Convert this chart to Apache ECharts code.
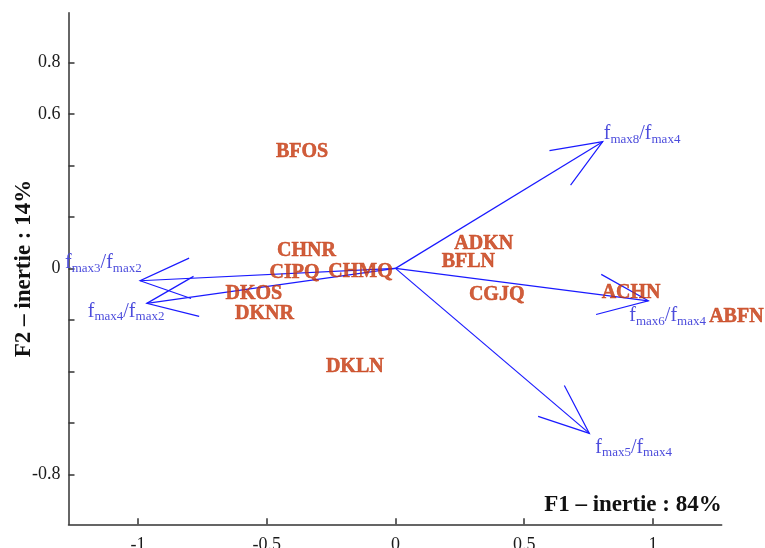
<!DOCTYPE html>
<html>
<head>
<meta charset="utf-8">
<script src="https://cdn.jsdelivr.net/npm/echarts@6/dist/echarts.min.js"></script>
<style>
  html, body { margin: 0; padding: 0; background: #fff; }
  #chart { width: 765px; height: 548px; }
</style>
</head>
<body>
<div id="chart"></div>
<script>
// observations (individus)
var obsNames = ['BFOS', 'CHNR', 'CIPQ', 'CHMQ', 'DKOS', 'DKNR', 'DKLN', 'ADKN', 'BFLN', 'CGJQ', 'ACHN', 'ABFN'];
var obsX = [-0.363, -0.346, -0.392, -0.136, -0.550, -0.509, -0.158, 0.343, 0.283, 0.393, 0.915, 1.324];
var obsY = [0.453, 0.067, -0.019, -0.013, -0.100, -0.175, -0.382, 0.094, 0.026, -0.104, -0.095, -0.188];

// variables (ratios f_max i / f_max j)
var varNum = ['max8', 'max6', 'max5', 'max3', 'max4'];
var varDen = ['max4', 'max4', 'max4', 'max2', 'max2'];
var varX = [0.805, 0.982, 0.753, -0.992, -0.966];
var varY = [0.492, -0.126, -0.641, -0.048, -0.136];

// axis ticks / labels
var xTicks = [-1, -0.5, 0, 0.5, 1];
var yTicks = [-0.8, -0.6, -0.4, -0.2, 0, 0.2, 0.4, 0.6, 0.8];
var yLabels = [-0.8, 0, 0.6, 0.8];

// label placement relative to arrow tip (px)
var varLabelOffset = [[1, -8], [-19, 15], [6, 14], [-75, -18], [-59, 8]];

var serif = '"Liberation Serif", "DejaVu Serif", serif';
var blueLine = '#1a1aff';
var blueText = '#4c4cdc';
var red = '#c4360b';
var headLen = 54;
var headAng = 22 * Math.PI / 180;

var chart = echarts.init(document.getElementById('chart'));

var option = {
  animation: false,
  backgroundColor: '#fff',
  grid: { left: 68.5, right: 43.3, top: 12.7, bottom: 23.7, containLabel: false, outerBoundsMode: 'none' },
  xAxis: {
    type: 'value',
    min: -1.27,
    max: 1.267,
    splitLine: { show: false },
    axisLine: { onZero: false, lineStyle: { color: '#333', width: 1.5 } },
    axisTick: { inside: true, length: 6, customValues: xTicks, lineStyle: { color: '#333', width: 1.5 } },
    axisLabel: {
      customValues: xTicks, margin: 12, fontSize: 18, fontFamily: serif, color: '#1a1a1a'
    },
    name: 'F1 – inertie : 84%',
    nameLocation: 'end',
    nameGap: 0,
    nameMoveOverlap: false,
    nameTextStyle: {
      fontFamily: serif, fontWeight: 'bold', fontSize: 23, color: '#111',
      align: 'right', verticalAlign: 'bottom', padding: [0, 0, 8, 0]
    }
  },
  yAxis: {
    type: 'value',
    min: -0.994,
    max: 0.993,
    splitLine: { show: false },
    axisLine: { onZero: false, lineStyle: { color: '#333', width: 1.5 } },
    axisTick: { inside: true, length: 6, customValues: yTicks, lineStyle: { color: '#333', width: 1.5 } },
    axisLabel: {
      customValues: yLabels, margin: 8, fontSize: 18, fontFamily: serif, color: '#1a1a1a'
    },
    name: 'F2 – inertie : 14%',
    nameLocation: 'middle',
    nameRotate: 90,
    nameGap: 33,
    nameMoveOverlap: false,
    nameTextStyle: { fontFamily: serif, fontWeight: 'bold', fontSize: 23, color: '#111' }
  },
  series: [
    {
      type: 'custom',
      clip: false,
      data: varX.map(function (x, i) { return [x, varY[i]]; }),
      renderItem: function (params, api) {
        var i = params.dataIndex;
        var o = api.coord([0, 0]);
        var t = api.coord([api.value(0), api.value(1)]);
        var a = Math.atan2(o[1] - t[1], o[0] - t[0]);
        var h1 = [t[0] + headLen * Math.cos(a + headAng), t[1] + headLen * Math.sin(a + headAng)];
        var h2 = [t[0] + headLen * Math.cos(a - headAng), t[1] + headLen * Math.sin(a - headAng)];
        var off = varLabelOffset[i];
        return {
          type: 'group',
          children: [
            { type: 'line', shape: { x1: o[0], y1: o[1], x2: t[0], y2: t[1] },
              style: { stroke: blueLine, lineWidth: 1.2 } },
            { type: 'polyline', shape: { points: [h1, t, h2] },
              style: { stroke: blueLine, lineWidth: 1.2, fill: null } },
            { type: 'text', x: t[0] + off[0], y: t[1] + off[1],
              style: {
                text: '{f|f}{s|' + varNum[i] + '}{f|/f}{s|' + varDen[i] + '}',
                align: 'left', verticalAlign: 'middle',
                rich: {
                  f: { fontFamily: serif, fontSize: 20, lineHeight: 24, fill: blueText, verticalAlign: 'middle' },
                  s: { fontFamily: serif, fontSize: 13, lineHeight: 12, fill: blueText, verticalAlign: 'bottom' }
                }
              } }
          ]
        };
      },
      z: 2
    },
    {
      type: 'scatter',
      clip: false,
      symbolSize: 1,
      itemStyle: { color: 'rgba(0,0,0,0)' },
      data: obsNames.map(function (n, i) { return { name: n, value: [obsX[i], obsY[i]] }; }),
      label: {
        show: true, position: 'inside', formatter: '{b}',
        fontFamily: serif, fontWeight: 'bold', fontSize: 20, color: red,
        textBorderColor: red, textBorderWidth: 0.5
      },
      z: 3
    }
  ]
};

chart.setOption(option);
</script>
</body>
</html>
